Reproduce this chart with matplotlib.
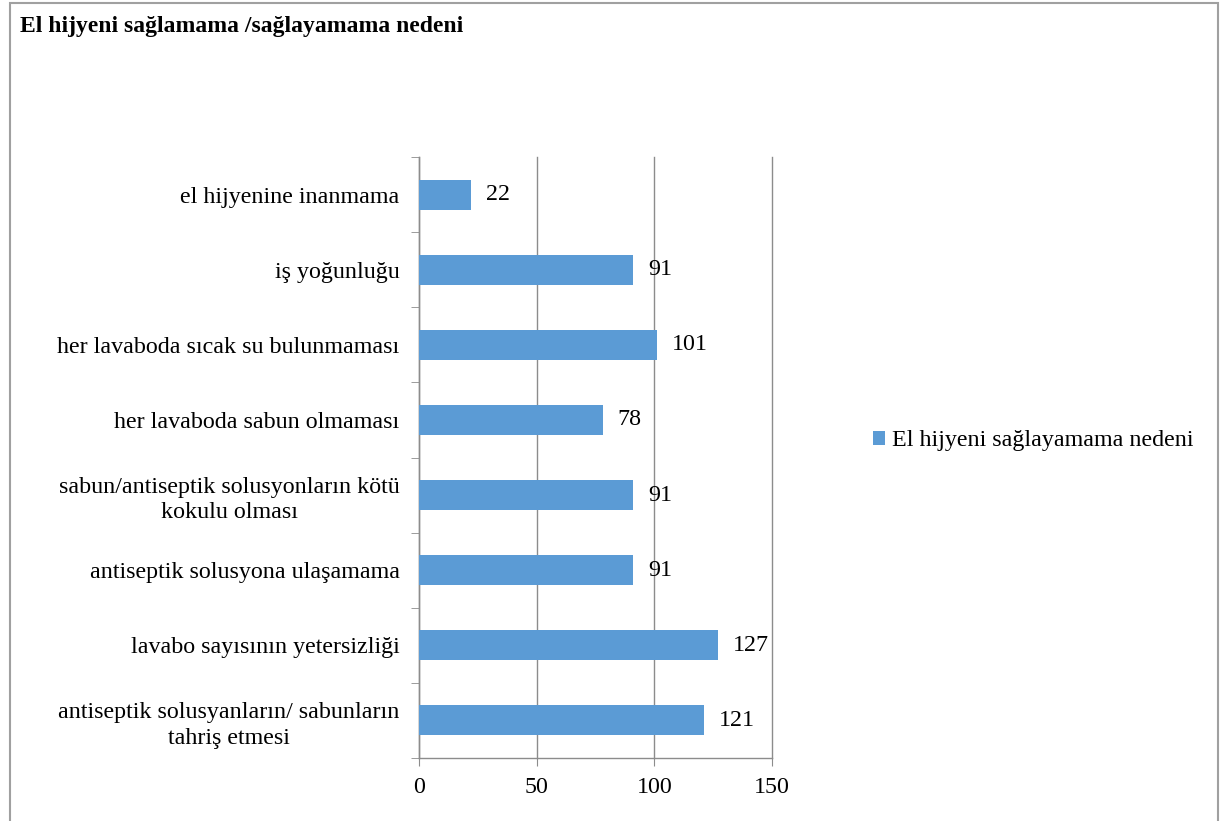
import matplotlib
matplotlib.use('Agg')
import matplotlib.pyplot as plt
from matplotlib.patches import Rectangle

# data (bottom to top)
categories = [
    'antiseptik solusyanların/ sabunların\ntahriş etmesi',
    'lavabo sayısının yetersizliği',
    'antiseptik solusyona ulaşamama',
    'sabun/antiseptik solusyonların kötü\nkokulu olması',
    'her lavaboda sabun olmaması',
    'her lavaboda sıcak su bulunmaması',
    'iş yoğunluğu',
    'el hijyenine inanmama',
]
values = [121, 127, 91, 91, 78, 101, 91, 22]
series_name = 'El hijyeni sağlayamama nedeni'
title = 'El hijyeni sağlamama /sağlayamama nedeni'
x_ticks = [0, 50, 100, 150]

plt.rcParams['font.family'] = ['Liberation Serif', 'DejaVu Serif']

fig = plt.figure(figsize=(12.2, 8.21), dpi=100)
ax = fig.add_axes([0.3434, 0.0767, 0.2894, 0.7321])

grey = '#8c8c8c'
fs = 17.3
pos = list(range(len(categories)))
bars = ax.barh(pos, values, height=0.4, color='#5b9bd5', label=series_name, zorder=3)

for p, v in zip(pos, values):
    ax.text(v + 6.5, p, str(v), va='center', ha='left', fontsize=fs, color='black', zorder=4)

ax.set_xlim(0, 150)
ax.set_ylim(-0.5, len(categories) - 0.5)
ax.set_xticks(x_ticks)
ax.set_xticklabels([str(t) for t in x_ticks], fontsize=fs)
ax.set_yticks(pos)
ax.set_yticklabels(categories, fontsize=fs, multialignment='center', linespacing=1.3)
ax.set_yticks([p - 0.5 for p in pos] + [len(pos) - 0.5], minor=True)
ax.tick_params(axis='y', which='major', length=0, pad=14)
ax.tick_params(axis='y', which='minor', length=6, color=grey, direction='out')
ax.tick_params(axis='x', length=6, color=grey, direction='out', pad=8)

ax.grid(axis='x', color=grey, linewidth=1, zorder=0)
for gl in ax.get_xgridlines():
    gl.set_clip_on(False)
for s in ['top', 'right']:
    ax.spines[s].set_visible(False)
for s in ['left', 'bottom']:
    ax.spines[s].set_color(grey)
    ax.spines[s].set_linewidth(1)

fig.legend(handles=[bars], labels=[series_name], loc='center left',
           bbox_to_anchor=(0.698, 0.463), frameon=False, fontsize=fs,
           handlelength=0.5, handleheight=0.5, handletextpad=0.3)

fig.text(0.016, 0.968, title, fontsize=17, fontweight='bold', ha='left', va='center')

fig.patches.append(Rectangle((0.008, -0.01), 0.99, 1.006, transform=fig.transFigure,
                             fill=False, edgecolor='#a0a0a0', linewidth=1.5))

fig.savefig('out.png', dpi=100)
